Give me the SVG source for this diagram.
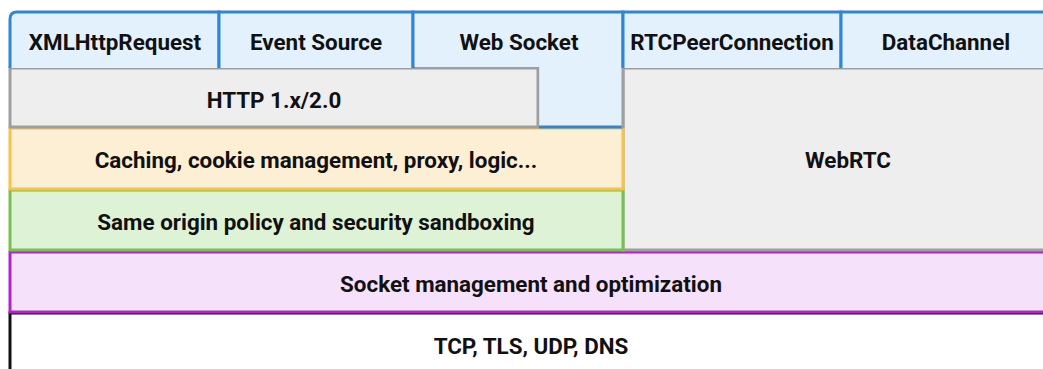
<svg xmlns="http://www.w3.org/2000/svg" width="1043" height="369" viewBox="0 0 1043 369">
<style>
text{font-family:Roboto,"Liberation Sans",sans-serif;font-weight:bold;font-size:22.4px;fill:#111111;text-anchor:middle;dominant-baseline:central}
.api{fill:#e3f1fc;stroke:#2e86d4;stroke-width:3}
.gray{fill:#eeeeee;stroke:#9e9e9e;stroke-width:3}
.orange{fill:#fdefd4;stroke:#f6c247;stroke-width:3}
.green{fill:#def2d6;stroke:#79c053;stroke-width:3}
.purple{fill:#f5e1f9;stroke:#b124cb;stroke-width:3}
.base{fill:#ffffff;stroke:#111111;stroke-width:3}
.bl{fill:none;stroke:#2e86d4;stroke-width:3}
.gl{fill:none;stroke:#9e9e9e;stroke-width:3}
</style>
<rect width="1043" height="369" fill="#ffffff"/>
<g id="tcp"><rect class="base" x="10" y="313" width="1070" height="90"/><text x="531" y="346">TCP, TLS, UDP, DNS</text></g>
<g id="socket"><rect class="purple" x="10" y="252" width="1070" height="60"/><text x="531" y="284">Socket management and optimization</text></g>
<g id="webrtc"><rect class="gray" x="623" y="68" width="450" height="182"/><text x="848" y="160">WebRTC</text></g>
<g id="sameorigin"><rect class="green" x="10" y="190" width="613" height="60"/><text x="316" y="222">Same origin policy and security sandboxing</text></g>
<g id="caching"><rect class="orange" x="10" y="128" width="613" height="61"/><text x="316" y="160">Caching, cookie management, proxy, logic...</text></g>
<g id="http"><rect class="gray" x="10" y="68" width="528" height="59"/><text x="274" y="100">HTTP 1.x/2.0</text></g>
<g id="xhr"><path class="api" d="M10,68 V19 Q10,12 17,12 H219 V68"/><text x="115" y="42">XMLHttpRequest</text></g>
<g id="eventsource"><path class="api" d="M219,68 V12 H413 V68"/><text x="316" y="42">Event Source</text></g>
<g id="websocket"><path d="M413,67 V12 H623 V126 H539.5 V67 Z" fill="#e3f1fc"/><path class="bl" d="M413,68 V12 H623 V68 M539,127 H623"/><path class="gl" d="M623,68 V128"/><text x="519" y="42">Web Socket</text></g>
<g id="rtcpeer"><path class="api" d="M623,68 V12 H841 V68"/><text x="732" y="42">RTCPeerConnection</text></g>
<g id="datachannel"><path class="api" d="M841,68 V12 H1060 V68"/><text x="946" y="42">DataChannel</text></g>
<g id="connectors"/>
</svg>
